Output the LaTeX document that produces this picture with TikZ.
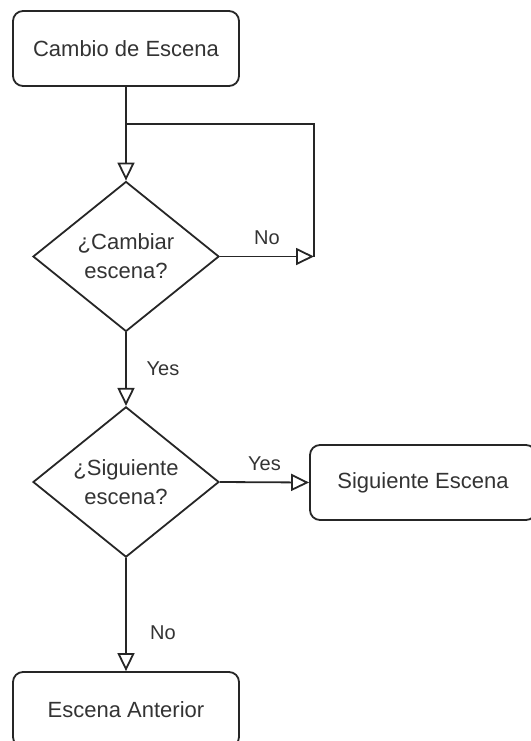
\documentclass[tikz,border=0pt]{standalone}
\usepackage{fontspec}
\setmainfont{Liberation Sans}
\usepackage{tikz}
\usetikzlibrary{
    arrows.meta,
    shapes.geometric,
    positioning
}

\begin{document}
\begin{tikzpicture}[
        x=0.5pt, y=-0.5pt,
        line width=0.9pt, draw=black!85,
        every node/.style={text=black!80, font=\fontsize{11}{14.5}\selectfont},
        box/.style={draw, rounded corners=5pt, minimum width=113pt, minimum height=37.5pt},
        choice/.style={draw, diamond, inner sep=0pt, align=center, minimum width=93pt, minimum height=75pt},
        tag/.style={font=\fontsize{10}{12}\selectfont},
        flow/.style={-{Triangle[open, length=9pt, width=8.5pt]}}
    ]
    \useasboundingbox (0, 0) rectangle (531, 741);
    \clip (0, 0) rectangle (531, 741);
    \node[box] (cambio) at (126, 48.5) {Cambio de Escena};
    \node[choice] (cambiar) at (126, 256.5) {¿Cambiar\\escena?};
    \node[choice] (siguiente) at (126, 482) {¿Siguiente\\escena?};
    \node[box] (sigesc) at (423, 482.5) {Siguiente Escena};
    \node[box] (anterior) at (126, 709.5) {Escena Anterior};
    \coordinate (loopa) at (126, 124);
    \coordinate (loopb) at (314, 256.5);
    \draw[flow] (cambio) -- (cambiar);
    \draw[flow] (cambiar.east) -- node[tag, yshift=9.5pt] (no1) {No} (loopb);
    \draw (loopb) |- (loopa);
    \draw[flow] (cambiar) -- node[tag, xshift=18.5pt] (yes1) {Yes} (siguiente);
    \draw[flow] (siguiente.east) -- node[tag, yshift=9.5pt] (yes2) {Yes} (sigesc.west);
    \draw[flow] (siguiente) -- node[tag, pos=0.66, xshift=18.5pt] (no2) {No} (anterior);
\end{tikzpicture}
\end{document}
